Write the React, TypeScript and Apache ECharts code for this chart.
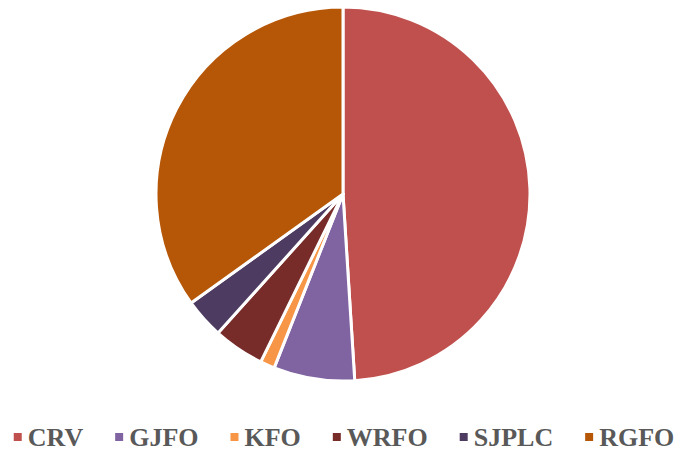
import React, { useEffect, useRef } from "react";
import * as echarts from "echarts";

const categories = ["CRV", "GJFO", "KFO", "WRFO", "SJPLC", "RGFO"];
const values = [49.0, 7.0, 1.25, 4.4, 3.45, 34.9];
const colors = ["#C0504D", "#8064A2", "#F79646", "#772C2A", "#4D3B62", "#B65708"];

export default function App() {
  const ref = useRef<HTMLDivElement>(null);
  useEffect(() => {
    document.body.style.margin = "0";
    const chart = echarts.init(ref.current!, undefined, { renderer: "svg" });
    chart.setOption({
      animation: false,
      color: colors,
      legend: {
        top: 419,
        left: "center",
        itemWidth: 10,
        itemHeight: 10,
        itemGap: 30,
        icon: "rect",
        textStyle: {
          fontFamily: "Liberation Serif",
          fontWeight: "bold",
          fontSize: 26,
          color: "#595959",
        },
        data: categories,
      },
      series: [
        {
          type: "pie",
          center: [343, 194],
          radius: 187,
          startAngle: 90,
          clockwise: true,
          label: { show: false },
          labelLine: { show: false },
          emphasis: { disabled: true },
          itemStyle: { borderColor: "#ffffff", borderWidth: 3 },
          data: categories.map((name, i) => ({ name, value: values[i] })),
        },
      ],
    });
    return () => chart.dispose();
  }, []);
  return <div ref={ref} style={{ width: 686, height: 453 }} />;
}
